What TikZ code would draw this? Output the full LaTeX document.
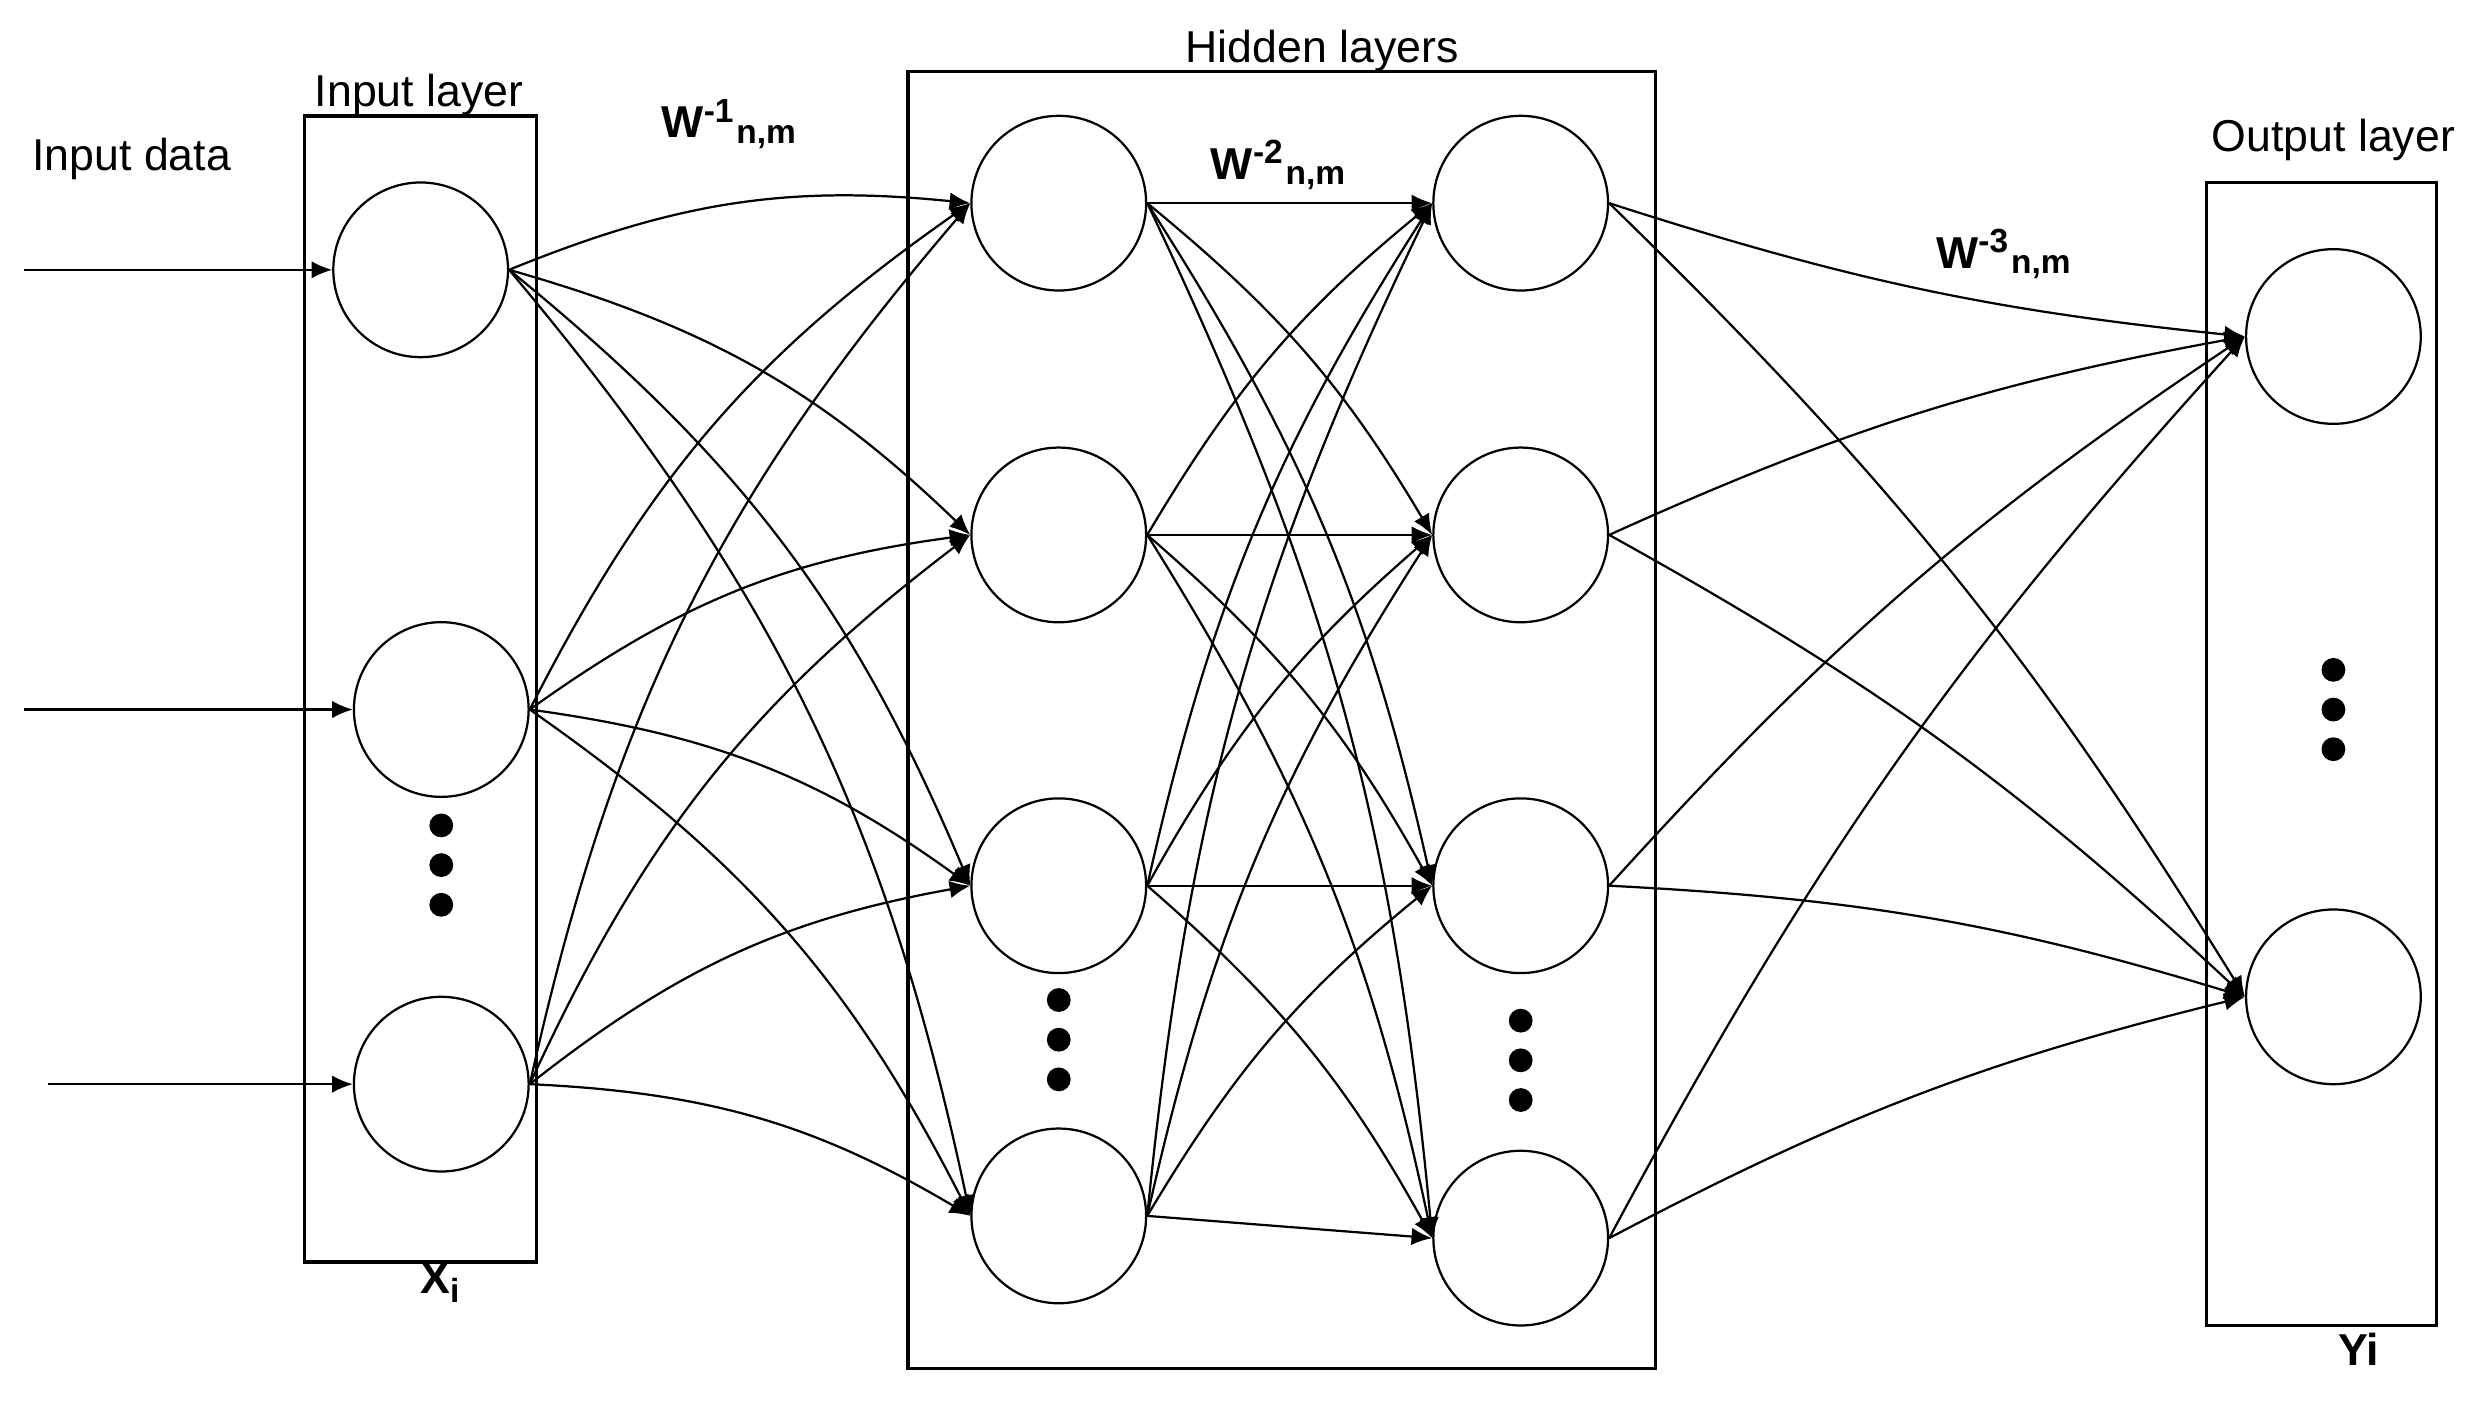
\documentclass[tikz,border=0pt]{standalone}
\usepackage{fontspec}
\setmainfont{Liberation Sans}
\usetikzlibrary{arrows.meta}
\tikzset{
  neuron/.style={draw, circle, minimum size=1.1cm, inner sep=0pt},
  layerbox/.style={draw, line width=0.6pt},
  conn/.style={-{Latex[length=1.3mm,width=1.1mm]}, line width=0.4pt},
  dot/.style={fill, circle, inner sep=0pt, minimum size=0.15cm},
  lbl/.style={font=\fontsize{8}{10}\selectfont},
  wlbl/.style={font=\fontsize{8}{10}\selectfont\bfseries}
}
\begin{document}
\begin{tikzpicture}[x=0.01cm,y=-0.01cm]
	\useasboundingbox (0,0) rectangle (1568,886);
	
	%boxes
	\draw[layerbox] (192,73) rectangle (338,795);
	\draw[layerbox] (572,45) rectangle (1043,862);
	\draw[layerbox] (1390,115) rectangle (1535,835);
	\node[lbl] (input_title) at (264,60) {Input layer};
	\node[lbl] (hidden_title) at (833,32) {Hidden layers};
	\node[lbl] (output_title) at (1470,88) {Output layer};
	\node[lbl] (input_data) at (83,100) {Input data};
	\node[wlbl] (x_label) at (278,808) {X\textsubscript{i}};
	\node[wlbl] (y_label) at (1486,850) {Yi};
	\node[wlbl] (w_one) at (460,78) {W\textsuperscript{-1}\textsubscript{n,m}};
	\node[wlbl] (w_two) at (806,104) {W\textsuperscript{-2}\textsubscript{n,m}};
	\node[wlbl] (w_three) at (1263,160) {W\textsuperscript{-3}\textsubscript{n,m}};
	
	%input layer
	\foreach \i/\x/\y/\s in {1/265/170/15, 2/278/447/15, 3/278/683/30} {
		\node[neuron] (input_node\i) at (\x,\y) {};
		\coordinate (input_start\i) at (\s,\y);
		\draw[conn] (input_start\i) -- (input_node\i);
	}
	
	%hidden layers
	\foreach \i/\y in {1/128, 2/337, 3/558, 4/766}
		\node[neuron] (hidden_a\i) at (667,\y) {};
	\foreach \i/\y in {1/128, 2/337, 3/558, 4/780}
		\node[neuron] (hidden_b\i) at (958,\y) {};
	
	%output layer
	\foreach \i/\y in {1/212, 2/628}
		\node[neuron] (output_node\i) at (1470,\y) {};
	
	%dots
	\foreach \x/\y in {278/520, 278/545, 278/570, 667/630, 667/655, 667/680,
	                   958/643, 958/668, 958/693, 1470/422, 1470/447, 1470/472}
		\node[dot] at (\x,\y) {};
	
	% Connect layers
	\foreach \i in {1,2,3} {
		\foreach \j in {1,2,3,4} {
			\draw[conn] (input_node\i.east) to[bend left=14] (hidden_a\j.west);
		}
	}
	\foreach \i in {1,2,3,4} {
		\foreach \j in {1,2,3,4} {
			\ifnum\i=\j
				\draw[conn] (hidden_a\i.east) -- (hidden_b\j.west);
			\else
				\draw[conn] (hidden_a\i.east) to[bend left=10] (hidden_b\j.west);
			\fi
		}
	}
	\draw[conn] (hidden_b1.east) to[bend right=6] (output_node1.west);
	\foreach \i/\j in {1/2, 2/1, 2/2, 3/1, 3/2, 4/1, 4/2} {
		\draw[conn] (hidden_b\i.east) to[bend left=7] (output_node\j.west);
	}
\end{tikzpicture}
\end{document}
